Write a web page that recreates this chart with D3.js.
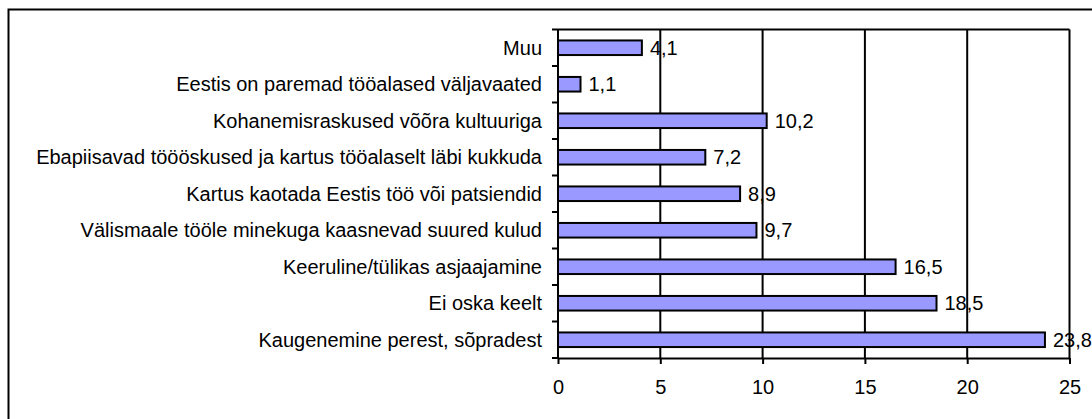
<!DOCTYPE html>
<html>
<head>
<meta charset="utf-8">
<script src="https://cdn.jsdelivr.net/npm/d3@7"></script>
<style>
  body { margin: 0; background: #fff; }
  text { font-family: "Liberation Sans", Arial, sans-serif; font-size: 20px; fill: #000; }
</style>
</head>
<body>
<svg width="1092" height="419"></svg>
<script>
// categories top to bottom, as in the picture
const categories = [
    "Muu",
    "Eestis on paremad tööalased väljavaated",
    "Kohanemisraskused võõra kultuuriga",
    "Ebapiisavad töööskused ja kartus tööalaselt läbi kukkuda",
    "Kartus kaotada Eestis töö või patsiendid",
    "Välismaale tööle minekuga kaasnevad suured kulud",
    "Keeruline/tülikas asjaajamine",
    "Ei oska keelt",
    "Kaugenemine perest, sõpradest"
];
const values = [4.1, 1.1, 10.2, 7.2, 8.9, 9.7, 16.5, 18.5, 23.8];
const xTicks = [0, 5, 10, 15, 20, 25];

const svg = d3.select("svg");

// outer chart border (runs off the right and bottom of the picture)
svg.append("rect")
    .attr("x", 8.5).attr("y", 9.5)
    .attr("width", 1100).attr("height", 420)
    .style("fill", "none").style("stroke", "#000").style("stroke-width", "2px");

const pLeft = 558, pRight = 1069.5, pTop = 29.5, pBottom = 358;

const x = d3.scaleLinear().domain([0, 25]).range([pLeft, pRight]);
const y = d3.scaleBand().domain(categories).range([pTop, pBottom]).paddingInner(0.6).paddingOuter(0.3);
const yb = d3.scaleBand().domain(categories).range([pTop, pBottom]);

const g = svg.append("g");

// gridlines
g.selectAll(".grid")
    .data(xTicks.slice(1))
    .enter().append("line")
    .attr("x1", d => x(d)).attr("x2", d => x(d))
    .attr("y1", pTop).attr("y2", pBottom)
    .style("stroke", "#000").style("stroke-width", "2px");

// plot area top line
g.append("line")
    .attr("x1", pLeft).attr("x2", pRight)
    .attr("y1", pTop).attr("y2", pTop)
    .style("stroke", "#000").style("stroke-width", "2px");

// bars
g.selectAll(".bar")
    .data(values)
    .enter().append("rect")
    .attr("x", x(0))
    .attr("y", (d, i) => y(categories[i]))
    .attr("width", d => x(d) - x(0))
    .attr("height", y.bandwidth())
    .style("fill", "#9999ff")
    .style("stroke", "#000")
    .style("stroke-width", "2px");

// value labels
g.selectAll(".val")
    .data(values)
    .enter().append("text")
    .attr("x", d => x(d) + 8)
    .attr("y", (d, i) => y(categories[i]) + y.bandwidth() / 2)
    .attr("dy", "0.36em")
    .text(d => String(d).replace(".", ","));

// x axis
const xAxis = d3.axisBottom(x).tickValues(xTicks).tickSize(6).tickSizeOuter(0).tickPadding(16);
const gx = svg.append("g").attr("transform", `translate(0,${pBottom})`).call(xAxis);
gx.select(".domain").style("stroke", "#000").style("stroke-width", "2px");
gx.selectAll(".tick line").style("stroke", "#000").style("stroke-width", "2px");
gx.selectAll("text").style("font-size", "20px").style("font-family", "Liberation Sans, Arial, sans-serif");

// y axis with ticks between categories
const ya = svg.append("g");
ya.append("line")
    .attr("x1", pLeft).attr("x2", pLeft).attr("y1", pTop).attr("y2", pBottom)
    .style("stroke", "#000").style("stroke-width", "2px");
ya.selectAll(".ytick")
    .data(d3.range(categories.length + 1))
    .enter().append("line")
    .attr("x1", pLeft - 6).attr("x2", pLeft)
    .attr("y1", i => pTop + i * yb.step()).attr("y2", i => pTop + i * yb.step())
    .style("stroke", "#000").style("stroke-width", "2px");
ya.selectAll(".ylab")
    .data(categories)
    .enter().append("text")
    .attr("x", pLeft - 16)
    .attr("y", d => yb(d) + yb.bandwidth() / 2)
    .attr("dy", "0.36em")
    .style("text-anchor", "end")
    .text(d => d);
</script>
</body>
</html>
